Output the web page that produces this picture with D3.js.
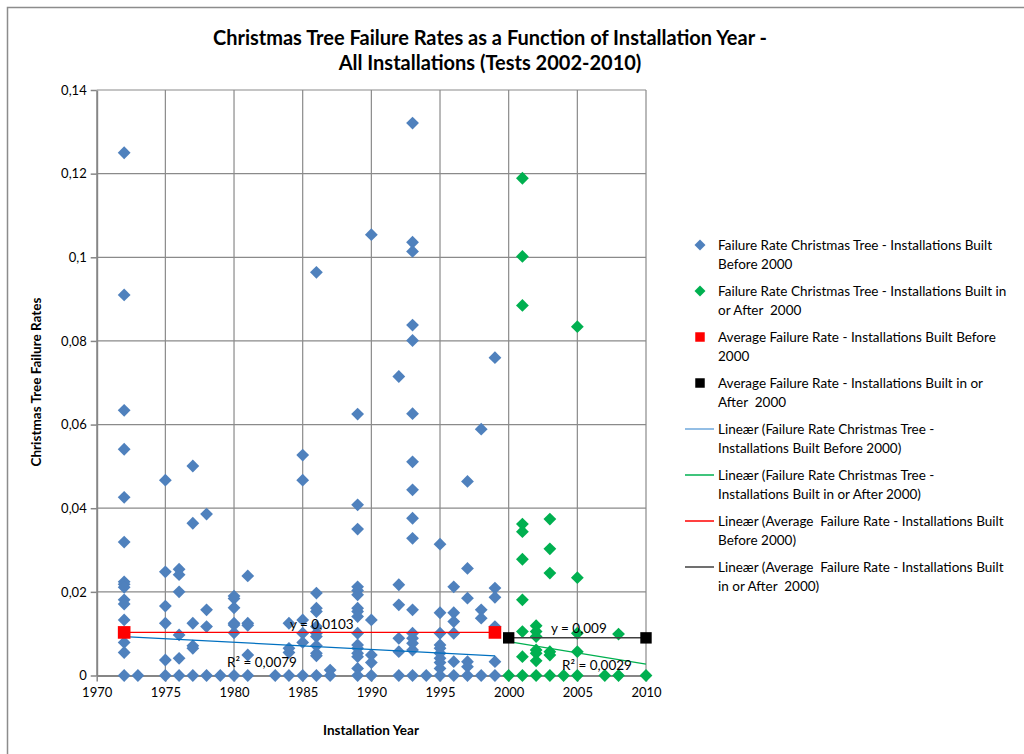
<!DOCTYPE html>
<html>
<head>
<meta charset="utf-8">
<script src="https://cdn.jsdelivr.net/npm/d3@7"></script>
<style>
  body { margin: 0; background: #fff; }
  text { font-family: Lato, "Open Sans", sans-serif; fill: #000; }
</style>
</head>
<body>
<div id="chart"></div>
<script>
// Data
var blueYears = [1972, 1973, 1975, 1976, 1977, 1978, 1979, 1980, 1981, 1983, 1984, 1985, 1986, 1987,
                 1989, 1990, 1992, 1993, 1994, 1995, 1996, 1997, 1998, 1999];
var blueRates = [
    [0.125, 0.091, 0.0634, 0.0541, 0.0426, 0.0319, 0.0224, 0.0218, 0.0211, 0.0181, 0.0171, 0.0133, 0.0079, 0.0055, 0],
    [0],
    [0.0467, 0.0248, 0.0166, 0.0125, 0.0037, 0],
    [0.0254, 0.0241, 0.0200, 0.0097, 0.0041, 0],
    [0.0501, 0.0364, 0.0125, 0.0071, 0.0065, 0],
    [0.0386, 0.0157, 0.0117, 0],
    [0],
    [0.0190, 0.0184, 0.0162, 0.0125, 0.0121, 0.0102, 0],
    [0.0238, 0.0125, 0.0120, 0.0049, 0],
    [0],
    [0.0125, 0.0065, 0.0055, 0],
    [0.0527, 0.0467, 0.0133, 0.0101, 0.0079, 0],
    [0.0964, 0.0197, 0.0161, 0.0153, 0.0117, 0.0101, 0.0093, 0.0071, 0.0053, 0.0047, 0],
    [0.0013, 0],
    [0.0625, 0.0408, 0.0350, 0.0212, 0.0203, 0.0193, 0.0161, 0.0153, 0.0141, 0.0101, 0.0073, 0.0065, 0.0053, 0.0045, 0.0017, 0],
    [0.1054, 0.0133, 0.0049, 0.0031, 0],
    [0.0715, 0.0217, 0.0169, 0.0089, 0.0057, 0],
    [0.1321, 0.1036, 0.1014, 0.0838, 0.0801, 0.0626, 0.0511, 0.0444, 0.0376, 0.0328, 0.0157, 0.0101, 0.0089, 0.0077, 0.0061, 0],
    [0],
    [0.0314, 0.0150, 0.0101, 0.0073, 0.0065, 0.0053, 0.0041, 0.0031, 0.0017, 0],
    [0.0212, 0.0150, 0.0129, 0.0101, 0.0033, 0],
    [0.0464, 0.0256, 0.0185, 0.0033, 0.0021, 0],
    [0.0589, 0.0157, 0.0137, 0],
    [0.0760, 0.0209, 0.0187, 0.0117, 0.0033, 0]
];

var greenYears = [2000, 2001, 2002, 2003, 2004, 2005, 2007, 2008, 2010];
var greenRates = [
    [0],
    [0.1189, 0.1002, 0.0885, 0.0362, 0.0344, 0.0278, 0.0181, 0.0105, 0.0045, 0],
    [0.0119, 0.0105, 0.0093, 0.0061, 0.0053, 0.0035, 0],
    [0.0374, 0.0303, 0.0245, 0.0057, 0.0049, 0],
    [0],
    [0.0834, 0.0234, 0.0101, 0.0057, 0],
    [0],
    [0.0099, 0],
    [0]
];

// average failure rates (square markers)
var redAvg = [[1972, 0.0103], [1999, 0.0103]];
var blackAvg = [[2000, 0.009], [2010, 0.009]];

// trendline end points
var blueTrend = [[1972, 0.0093], [1999, 0.0047]];
var greenTrend = [[2000, 0.0081], [2010, 0.0027]];
var redTrend = redAvg;
var blackTrend = blackAvg;

var yTicks = [0, 0.02, 0.04, 0.06, 0.08, 0.1, 0.12, 0.14];
var yTickLabels = ["0", "0,02", "0,04", "0,06", "0,08", "0,1", "0,12", "0,14"];
var xTicks = [1970, 1975, 1980, 1985, 1990, 1995, 2000, 2005, 2010];

var legendItems = [
    {type: "diamond", color: "#4F81BD", lines: ["Failure Rate Christmas Tree - Installations Built", "Before 2000"]},
    {type: "diamond", color: "#00B050", lines: ["Failure Rate Christmas Tree - Installations Built in", "or After  2000"]},
    {type: "square", color: "#FF0000", lines: ["Average Failure Rate - Installations Built Before", "2000"]},
    {type: "square", color: "#000000", lines: ["Average Failure Rate - Installations Built in or", "After  2000"]},
    {type: "line", color: "#6FA8DC", lines: ["Lineær (Failure Rate Christmas Tree -", "Installations Built Before 2000)"]},
    {type: "line", color: "#00B050", lines: ["Lineær (Failure Rate Christmas Tree -", "Installations Built in or After 2000)"]},
    {type: "line", color: "#FF0000", lines: ["Lineær (Average  Failure Rate - Installations Built", "Before 2000)"]},
    {type: "line", color: "#404040", lines: ["Lineær (Average  Failure Rate - Installations Built", "in or After  2000)"]}
];

// flatten to points
function flatten(years, rates) {
    var out = [];
    years.forEach(function(yr, i) {
        rates[i].forEach(function(v) { out.push({year: yr, rate: v}); });
    });
    return out;
}
var bluePoints = flatten(blueYears, blueRates);
var greenPoints = flatten(greenYears, greenRates);

// Set up chart
var svgWidth = 1024;
var svgHeight = 754;

var svg = d3.select("#chart")
    .append("svg")
    .attr("width", svgWidth)
    .attr("height", svgHeight);

svg.append("rect")
    .attr("x", 7.5).attr("y", 7.5)
    .attr("width", 1030).attr("height", 760)
    .attr("fill", "#fff")
    .attr("stroke", "#8c8c8c")
    .attr("stroke-width", 1.5);

var xScale = d3.scaleLinear().domain([1970, 2010]).range([96.7, 646]);
var yScale = d3.scaleLinear().domain([0, 0.14]).range([675.5, 90]);

// gridlines
var grid = svg.append("g");
grid.selectAll(".hgrid")
    .data(yTicks.slice(1))
    .enter().append("line")
    .attr("x1", xScale(1970)).attr("x2", xScale(2010))
    .attr("y1", d => yScale(d)).attr("y2", d => yScale(d))
    .attr("stroke", "#8a8a8a").attr("stroke-width", 1.2);
grid.selectAll(".vgrid")
    .data(xTicks.slice(1))
    .enter().append("line")
    .attr("x1", d => xScale(d)).attr("x2", d => xScale(d))
    .attr("y1", yScale(0)).attr("y2", yScale(0.14))
    .attr("stroke", "#8a8a8a").attr("stroke-width", 1.2);

// axes
var leftAxis = d3.axisLeft(yScale).tickValues(yTicks)
    .tickFormat((d, i) => yTickLabels[i]).tickSizeInner(6).tickSizeOuter(0).tickPadding(4);
var bottomAxis = d3.axisBottom(xScale).tickValues(xTicks)
    .tickFormat(d3.format("d")).tickSizeInner(6).tickSizeOuter(0).tickPadding(6);

var gy = svg.append("g").attr("transform", `translate(${xScale(1970)},0)`).call(leftAxis);
var gx = svg.append("g").attr("transform", `translate(0,${yScale(0)})`).call(bottomAxis);
[gx, gy].forEach(function(g) {
    g.select(".domain").attr("stroke", "#868686").attr("stroke-width", 2);
    g.selectAll(".tick line").attr("stroke", "#868686").attr("stroke-width", 1.5);
    g.selectAll(".tick text").style("font-family", "Lato, sans-serif").style("font-size", "13px").attr("fill", "#000");
});

// markers
var diamond = d3.symbol().type(d3.symbolSquare).size(82);
var square = d3.symbol().type(d3.symbolSquare).size(160);

function drawDiamonds(points, color) {
    svg.append("g").selectAll("path")
        .data(points)
        .enter().append("path")
        .attr("d", diamond)
        .attr("transform", d => `translate(${xScale(d.year)},${yScale(d.rate)}) rotate(45)`)
        .attr("fill", color);
}
drawDiamonds(bluePoints, "#4F81BD");
drawDiamonds(greenPoints, "#00B050");

// trendlines
var line = d3.line().x(d => xScale(d[0])).y(d => yScale(d[1]));
svg.append("path").attr("d", line(blueTrend)).attr("stroke", "#0070C0").attr("stroke-width", 1.3).attr("fill", "none");
svg.append("path").attr("d", line(greenTrend)).attr("stroke", "#00B050").attr("stroke-width", 1.3).attr("fill", "none");
svg.append("path").attr("d", line(redTrend)).attr("stroke", "#FF0000").attr("stroke-width", 1.3).attr("fill", "none");
svg.append("path").attr("d", line(blackTrend)).attr("stroke", "#404040").attr("stroke-width", 1.5).attr("fill", "none");

// average squares
svg.append("g").selectAll("path")
    .data(redAvg).enter().append("path")
    .attr("d", square)
    .attr("transform", d => `translate(${xScale(d[0])},${yScale(d[1])})`)
    .attr("fill", "#FF0000");
svg.append("g").selectAll("path")
    .data(blackAvg).enter().append("path")
    .attr("d", d3.symbol().type(d3.symbolSquare).size(130))
    .attr("transform", d => `translate(${xScale(d[0])},${yScale(d[1])})`)
    .attr("fill", "#000");

// trendline equations
var eqs = [
    {text: "y = 0,0103", x: 290, y: 629},
    {text: "R² = 0,0079", x: 227, y: 667},
    {text: "y = 0,009", x: 551, y: 633},
    {text: "R² = 0,0029", x: 562, y: 670}
];
svg.selectAll(".eq").data(eqs).enter().append("text")
    .attr("x", d => d.x).attr("y", d => d.y)
    .style("font-size", "13.5px")
    .text(d => d.text);

// title
svg.append("text")
    .attr("x", 490).attr("y", 45)
    .attr("text-anchor", "middle")
    .style("font-size", "20px").style("font-weight", "bold")
    .text("Christmas Tree Failure Rates as a Function of Installation Year -");
svg.append("text")
    .attr("x", 490).attr("y", 70)
    .attr("text-anchor", "middle")
    .style("font-size", "20px").style("font-weight", "bold")
    .text("All Installations (Tests 2002-2010)");

// axes labels
svg.append("text")
    .attr("transform", "translate(41, 382) rotate(-90)")
    .attr("text-anchor", "middle")
    .style("font-size", "13.5px").style("font-weight", "bold")
    .text("Christmas Tree Failure Rates");
svg.append("text")
    .attr("x", 371).attr("y", 735)
    .attr("text-anchor", "middle")
    .style("font-size", "13.5px").style("font-weight", "bold")
    .text("Installation Year");

// legend
var legend = svg.append("g");
legendItems.forEach(function(item, i) {
    var y0 = 245 + i * 46;
    if (item.type === "diamond") {
        legend.append("path").attr("d", d3.symbol().type(d3.symbolSquare).size(60))
            .attr("transform", `translate(700,${y0}) rotate(45)`).attr("fill", item.color);
    } else if (item.type === "square") {
        legend.append("path").attr("d", d3.symbol().type(d3.symbolSquare).size(90))
            .attr("transform", `translate(700,${y0})`).attr("fill", item.color);
    } else {
        legend.append("line").attr("x1", 685).attr("x2", 714)
            .attr("y1", y0).attr("y2", y0)
            .attr("stroke", item.color).attr("stroke-width", 1.5);
    }
    item.lines.forEach(function(t, j) {
        legend.append("text")
            .attr("x", 718).attr("y", y0 + 5 + j * 18.5)
            .style("font-size", "13.5px")
            .attr("xml:space", "preserve")
            .text(t);
    });
});
</script>
</body>
</html>
